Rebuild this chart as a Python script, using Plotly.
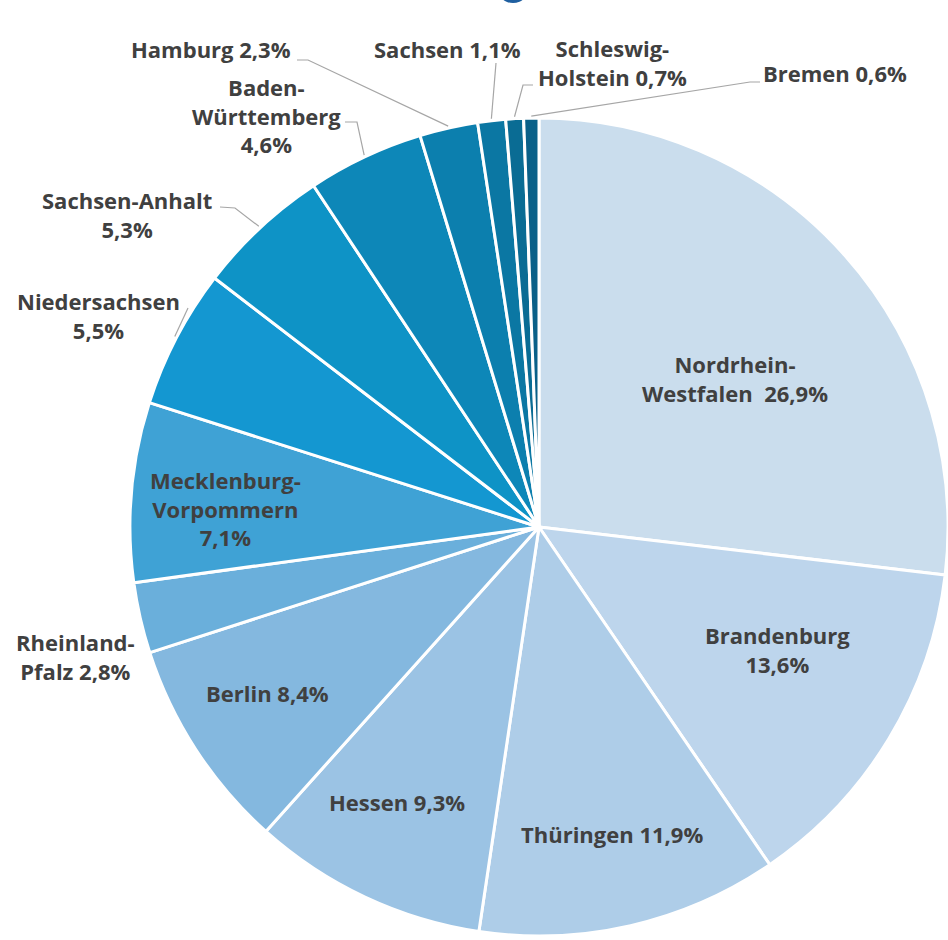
import math
from plotly import graph_objects as go

# data, clockwise from 12 o'clock
laender = [
    "Nordrhein-Westfalen", "Brandenburg", "Thüringen", "Hessen", "Berlin",
    "Rheinland-Pfalz", "Mecklenburg-Vorpommern", "Niedersachsen", "Sachsen-Anhalt",
    "Baden-Württemberg", "Hamburg", "Sachsen", "Schleswig-Holstein", "Bremen",
]
anteile = [26.9, 13.6, 11.9, 9.3, 8.4, 2.8, 7.1, 5.5, 5.3, 4.6, 2.3, 1.1, 0.7, 0.6]
label_texte = [
    "Nordrhein-<br>Westfalen  26,9%", "Brandenburg<br>13,6%", "Thüringen 11,9%",
    "Hessen 9,3%", "Berlin 8,4%", "Rheinland-<br>Pfalz 2,8%",
    "Mecklenburg-<br>Vorpommern<br>7,1%", "Niedersachsen<br>5,5%",
    "Sachsen-Anhalt<br>5,3%", "Baden-<br>Württemberg<br>4,6%", "Hamburg 2,3%",
    "Sachsen 1,1%", "Schleswig-<br>Holstein 0,7%", "Bremen 0,6%",
]
farben = [
    "#CADDED", "#BDD5EC", "#AECDE8", "#9BC3E4", "#84B8DF", "#6AAFDB", "#3FA2D5",
    "#1497D1", "#0E93C6", "#0D87B8", "#0C7FAE", "#0B77A3", "#0A6C94", "#0A6088",
]

# layout (pixels)
W, H = 948, 940
PIE_L, PIE_R, PIE_T, PIE_B = 130, 948, 114, 940
CX = (PIE_L + PIE_R) / 2
CY = (PIE_T + PIE_B) / 2
R = min(PIE_R - PIE_L, PIE_B - PIE_T) / 2
TEXT = "#404040"

# label centres
label_pos = {
    "Nordrhein-Westfalen": (735, 378),
    "Brandenburg": (777, 649),
    "Thüringen": (612, 834),
    "Hessen": (397, 802),
    "Berlin": (267, 693),
    "Rheinland-Pfalz": (75, 656),
    "Mecklenburg-Vorpommern": (225, 508),
    "Niedersachsen": (98, 316),
    "Sachsen-Anhalt": (127, 215),
    "Baden-Württemberg": (266, 115),
    "Hamburg": (211, 49),
    "Sachsen": (447, 49),
    "Schleswig-Holstein": (612, 63),
    "Bremen": (835, 73),
}
# leader line: start near label, elbow point
leader = {
    "Hamburg": [(297, 60), (308, 60)],
    "Sachsen": [(496, 63), (496, 63)],
    "Schleswig-Holstein": [(533, 85), (523, 85)],
    "Bremen": [(760, 82), (750, 82)],
    "Baden-Württemberg": [(345, 122), (357, 122)],
    "Sachsen-Anhalt": [(220, 207), (235, 208)],
    "Niedersachsen": [(188, 308), (188, 308)],
}


def px(x):
    return x / W


def py(y):
    return 1 - y / H


fig = go.Figure()
fig.add_trace(go.Pie(
    labels=laender,
    values=anteile,
    sort=False,
    direction="clockwise",
    rotation=0,
    textinfo="none",
    marker=dict(colors=farben, line=dict(color="white", width=3)),
    domain=dict(x=[px(PIE_L), px(PIE_R)], y=[py(PIE_B), py(PIE_T)]),
    showlegend=False,
))

total = sum(anteile)
cum = 0
shapes = []
for name, val in zip(laender, anteile):
    mid = (cum + val / 2) / total * 2 * math.pi
    cum += val
    if name in leader:
        ex = CX + (R + 2) * math.sin(mid)
        ey = CY - (R + 2) * math.cos(mid)
        p0, p1 = leader[name]
        path = "M {} {} L {} {} L {} {}".format(
            px(p0[0]), py(p0[1]), px(p1[0]), py(p1[1]), px(ex), py(ey))
        shapes.append(dict(type="path", xref="paper", yref="paper", path=path,
                           line=dict(color="#A6A6A6", width=1.2)))

# bit of a logo cut off at the top
shapes.append(dict(type="circle", xref="paper", yref="paper",
                   x0=px(496), x1=px(530), y0=py(3), y1=py(-32),
                   fillcolor="#1F5FA0", line_width=0))

annotations = []
for name, txt in zip(laender, label_texte):
    x, y = label_pos[name]
    annotations.append(dict(
        x=px(x), y=py(y), xref="paper", yref="paper", text=txt,
        showarrow=False, xanchor="center", yanchor="middle", align="center",
        font=dict(family="Open Sans", size=22, color=TEXT, weight="bold"),
    ))

fig.update_layout(
    width=W,
    height=H,
    margin=dict(l=0, r=0, t=0, b=0),
    paper_bgcolor="white",
    plot_bgcolor="white",
    shapes=shapes,
    annotations=annotations,
)

# no default body margin, so the figure sits at the window corner
fig.write_html("out.html", config={"displayModeBar": False},
               post_script="document.body.style.margin = '0';")
